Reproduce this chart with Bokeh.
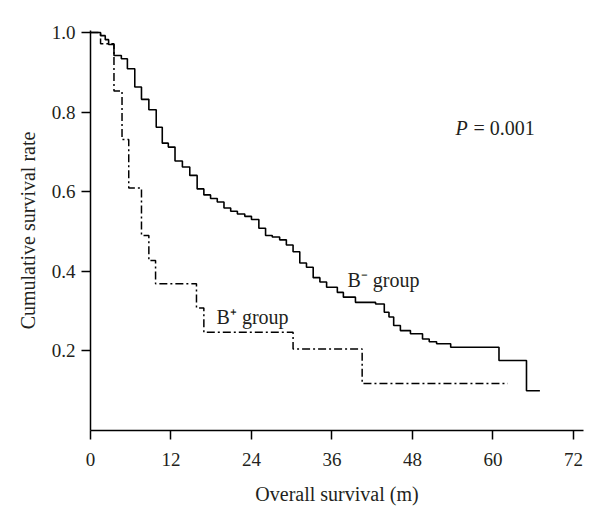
from bokeh.plotting import figure
from bokeh.models import ColumnDataSource, Label, Range1d, FixedTicker
from bokeh.embed import file_html
from bokeh.resources import INLINE

# B- group Kaplan-Meier (months, survival)
times_neg = [0, 1.5, 2.2, 2.7, 3.5, 4.6, 5.5, 6.6, 7.6, 8.7,
             9.8, 10.7, 11.6, 12.6, 13.7, 14.8, 15.9, 16.9, 17.9, 18.9,
             19.9, 20.9, 21.9, 23.0, 24.0, 25.1, 26.1, 27.1, 28.2, 29.2,
             30.2, 31.2, 32.2, 33.2, 34.2, 35.2, 36.8, 37.7, 39.5, 42.5,
             43.8, 44.5, 45.2, 46.2, 47.7, 49.5, 50.5, 51.6, 53.7, 60.9,
             65.0, 67.0]
surv_neg = [1.0, 0.992, 0.982, 0.970, 0.942, 0.934, 0.909, 0.863, 0.832, 0.806,
            0.762, 0.722, 0.712, 0.677, 0.662, 0.641, 0.607, 0.592, 0.583, 0.574,
            0.559, 0.551, 0.544, 0.538, 0.530, 0.508, 0.490, 0.486, 0.479, 0.466,
            0.449, 0.421, 0.410, 0.384, 0.373, 0.360, 0.347, 0.335, 0.322, 0.318,
            0.297, 0.285, 0.264, 0.251, 0.243, 0.230, 0.223, 0.218, 0.209, 0.176,
            0.100, 0.100]

# B+ group
times_pos = [0, 1.5, 3.5, 4.7, 5.7, 7.6, 8.7, 9.7, 15.8, 16.9, 30.2, 40.5, 62.2]
surv_pos = [1.0, 0.972, 0.853, 0.731, 0.609, 0.490, 0.427, 0.369, 0.308, 0.247, 0.205, 0.118, 0.118]

x_ticks = [0, 12, 24, 36, 48, 60, 72]
y_ticks = [0.2, 0.4, 0.6, 0.8, 1.0]

FONT = "Liberation Serif"
TXT = "#231f20"

p = figure(width=600, height=514, output_backend="svg", toolbar_location=None,
           x_range=Range1d(0, 73.5), y_range=Range1d(0, 1.005),
           min_border_left=90, min_border_right=17, min_border_top=30, min_border_bottom=84)
p.outline_line_color = None
p.xgrid.visible = False
p.ygrid.visible = False
p.background_fill_color = "white"

src_neg = ColumnDataSource(dict(t=times_neg, s=surv_neg))
src_pos = ColumnDataSource(dict(t=times_pos, s=surv_pos))
p.step(x="t", y="s", source=src_neg, mode="after", line_color="black", line_width=1.6)
p.step(x="t", y="s", source=src_pos, mode="after", line_color="black", line_width=1.5,
       line_dash="8 3 2 3")

for ax in (p.xaxis[0], p.yaxis[0]):
    ax.axis_line_color = "black"
    ax.axis_line_width = 1.5
    ax.major_tick_line_color = "black"
    ax.major_tick_line_width = 1.5
    ax.major_tick_in = 0
    ax.major_tick_out = 9
    ax.minor_tick_line_color = None
    ax.major_label_text_font = FONT
    ax.major_label_text_font_size = "19px"
    ax.major_label_text_color = TXT
    ax.axis_label_text_font = FONT
    ax.axis_label_text_font_size = "20px"
    ax.axis_label_text_font_style = "normal"
    ax.axis_label_text_color = TXT

p.xaxis[0].ticker = FixedTicker(ticks=x_ticks)
p.yaxis[0].ticker = FixedTicker(ticks=y_ticks)
p.yaxis[0].major_label_overrides = {v: f"{v:.1f}" for v in y_ticks}
p.xaxis[0].axis_label = "Overall survival (m)"
p.yaxis[0].axis_label = "Cumulative survival rate"
p.xaxis[0].major_label_standoff = 13
p.xaxis[0].axis_label_standoff = 14
p.yaxis[0].major_label_standoff = 6
p.yaxis[0].axis_label_standoff = 10

def lab(x, y, text, style="normal"):
    p.add_layout(Label(x=x, y=y, text=text, text_font=FONT, text_font_size="20px",
                       text_font_style=style, text_baseline="middle", text_align="left",
                       text_color=TXT))

lab(38.3, 0.377, "B\u207b group")
lab(18.8, 0.284, "B\u207a group")
lab(54.4, 0.759, "P", "italic")
lab(57.1, 0.759, "= 0.001")

open("out.html", "w").write(file_html(p, INLINE))
